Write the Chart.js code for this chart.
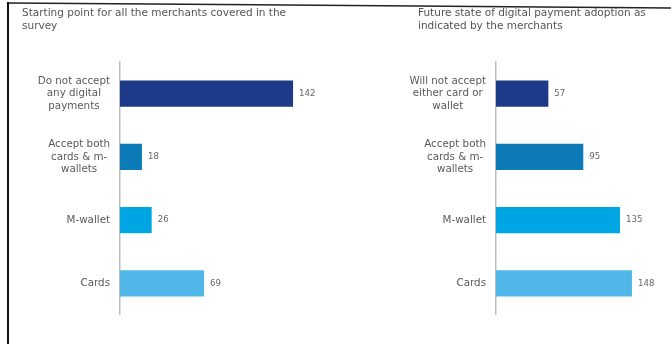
<!DOCTYPE html>
<html>
<head>
<meta charset="utf-8">
<script src="https://cdn.jsdelivr.net/npm/chart.js@4.4.1/dist/chart.umd.min.js"></script>
<style>
  html, body { margin: 0; padding: 0; background: #fff; }
  #wrap { position: relative; width: 671px; height: 344px; overflow: hidden; background: #fff; }
  .cv { position: absolute; top: 0; }
  .title { position: absolute; font-family: "DejaVu Sans", Verdana, sans-serif; font-size: 10.5px; color: #555; line-height: 13px; white-space: nowrap; }
  svg { position: absolute; left: 0; top: 0; }
</style>
</head>
<body>
<div id="wrap">
  <div class="cv" style="left:0;width:335px;height:344px;"><canvas id="c1" width="335" height="344"></canvas></div>
  <div class="cv" style="left:335px;width:336px;height:344px;"><canvas id="c2" width="336" height="344"></canvas></div>
  <div class="title" style="left:22px;top:6px;">Starting point for all the merchants covered in the<br>survey</div>
  <div class="title" style="left:418px;top:6px;">Future state of digital payment adoption as<br>indicated by the merchants</div>
  <svg width="671" height="344">
    <line x1="8" y1="3" x2="671" y2="8" stroke="#222" stroke-width="1.5"/>
    <line x1="8" y1="2" x2="8" y2="344" stroke="#111" stroke-width="2"/>
  </svg>
</div>
<script>
const leftCategories = [
  ["Do not accept", "any digital", "payments"],
  ["Accept both", "cards & m-", "wallets"],
  "M-wallet",
  "Cards"
];
const leftValues = [142, 18, 26, 69];

const rightCategories = [
  ["Will not accept", "either card or", "wallet"],
  ["Accept both", "cards & m-", "wallets"],
  "M-wallet",
  "Cards"
];
const rightValues = [57, 95, 135, 148];

const barColors = ["#1c3a87", "#0c7bb7", "#00a5e3", "#50b7e8"];

const FONT = "'DejaVu Sans', Verdana, sans-serif";

const valueLabels = {
  id: "valueLabels",
  afterDatasetsDraw(chart) {
    const ctx = chart.ctx;
    const meta = chart.getDatasetMeta(0);
    const data = chart.data.datasets[0].data;
    ctx.save();
    ctx.font = "8.6px " + FONT;
    ctx.fillStyle = "#666";
    ctx.textAlign = "left";
    ctx.textBaseline = "middle";
    meta.data.forEach((bar, i) => {
      ctx.fillText(String(data[i]), bar.x + 6, bar.y);
    });
    ctx.restore();
  }
};

// Category labels: each multi-line block is centred on itself, blocks right-aligned to the axis
const categoryLabels = {
  id: "categoryLabels",
  afterDraw(chart) {
    const ctx = chart.ctx;
    const y = chart.scales.y;
    const rightEdge = y.right - 10;
    const lh = 12.7;
    ctx.save();
    ctx.font = "10.3px " + FONT;
    ctx.fillStyle = "#595959";
    ctx.textBaseline = "middle";
    chart.data.labels.forEach((lab, i) => {
      const lines = Array.isArray(lab) ? lab : [lab];
      const widest = Math.max(...lines.map(l => ctx.measureText(l).width));
      const cx = rightEdge - widest / 2;
      const cy = y.getPixelForValue(i);
      ctx.textAlign = "center";
      lines.forEach((l, k) => {
        ctx.fillText(l, cx, cy + (k - (lines.length - 1) / 2) * lh);
      });
    });
    ctx.restore();
  }
};

function makeChart(id, labels, values, axisWidth, padRight) {
  return new Chart(document.getElementById(id), {
    type: "bar",
    data: {
      labels: labels,
      datasets: [{
        data: values,
        backgroundColor: barColors,
        borderWidth: 0,
        categoryPercentage: 1,
        barPercentage: 0.415
      }]
    },
    options: {
      indexAxis: "y",
      responsive: false,
      animation: false,
      devicePixelRatio: 1,
      layout: { padding: { top: 62, bottom: 27, left: 0, right: padRight } },
      plugins: { legend: { display: false }, tooltip: { enabled: false }, title: { display: false } },
      scales: {
        x: { display: false, min: 0, max: 160 },
        y: {
          afterFit(scale) { scale.width = axisWidth; },
          grid: { display: false, drawTicks: false },
          border: { display: true, color: "#bdbdbd", width: 1.5 },
          ticks: {
            padding: 10,
            color: "rgba(0,0,0,0)",
            font: { family: FONT, size: 10, lineHeight: 1.27 }
          }
        }
      }
    },
    plugins: [valueLabels, categoryLabels]
  });
}

makeChart("c1", leftCategories, leftValues, 120, 20);
makeChart("c2", rightCategories, rightValues, 161, 28);
</script>
</body>
</html>
